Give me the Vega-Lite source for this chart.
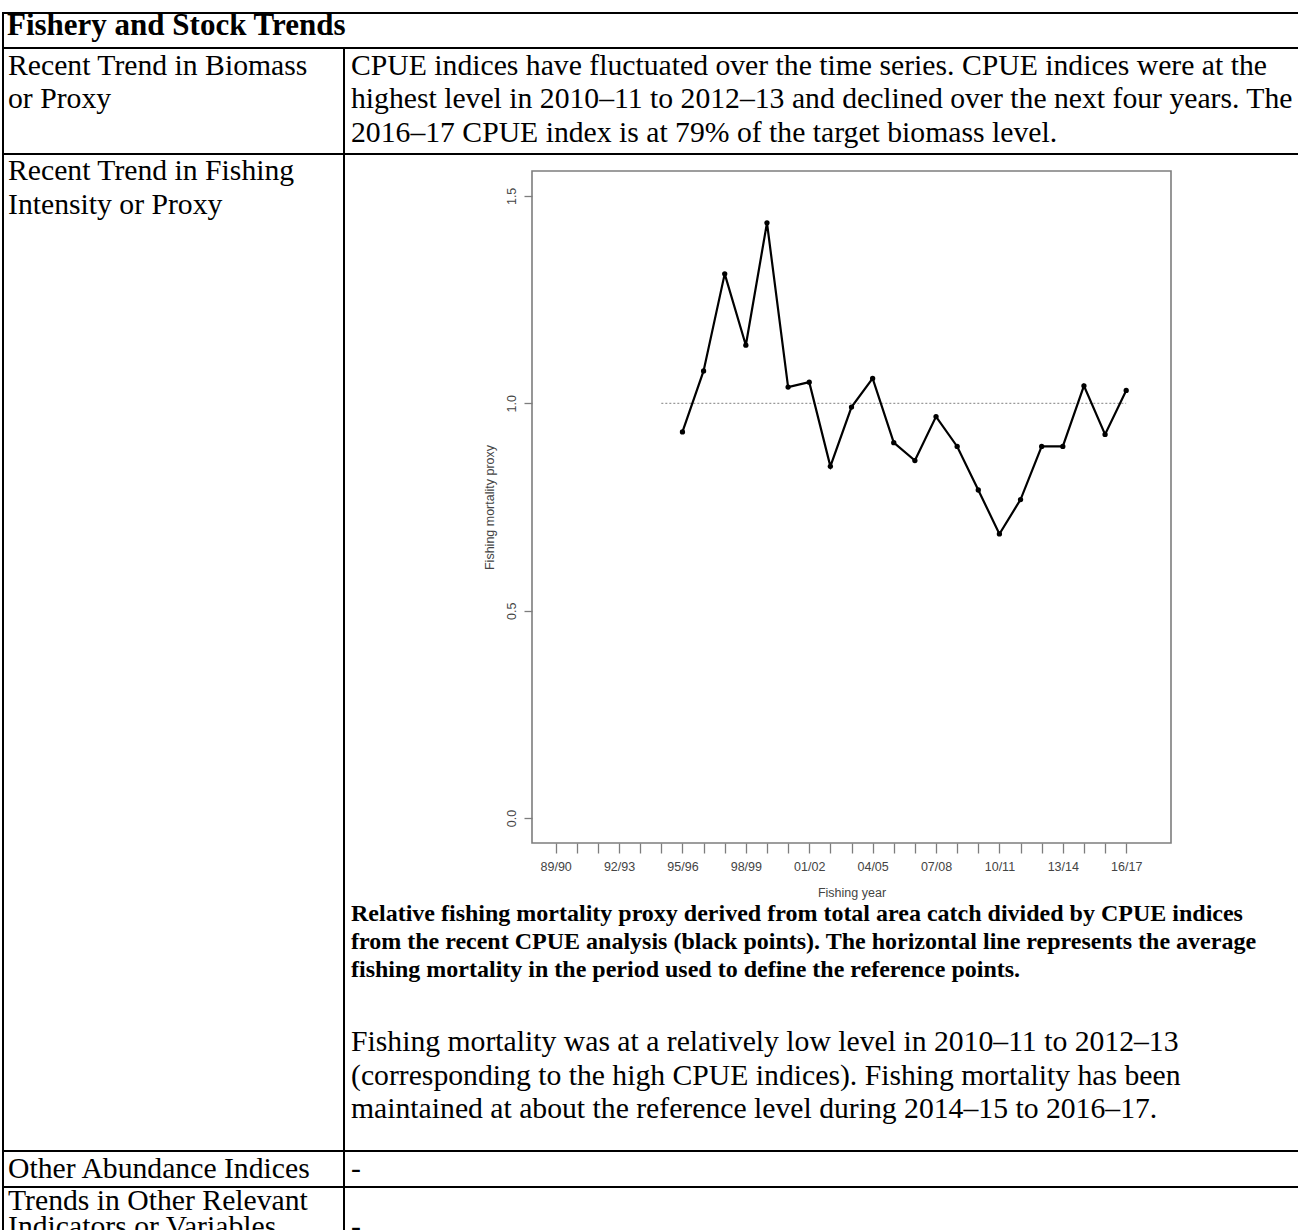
{
  "$schema": "https://vega.github.io/schema/vega-lite/v6.json",
  "padding": {"left": 2, "top": 9, "right": 0, "bottom": 0},
  "background": "white",
  "config": {"view": {"stroke": null}, "concat": {"spacing": 0}, "font": "Liberation Serif"},
  "datasets": {
    "texts": [
      {"cell": "header", "line": 0, "text": "Fishery and Stock Trends"},
      {"cell": "b_left", "line": 0, "text": "Recent Trend in Biomass"},
      {"cell": "b_left", "line": 1, "text": "or Proxy"},
      {"cell": "b_right", "line": 0, "text": "CPUE indices have fluctuated over the time series. CPUE indices were at the"},
      {"cell": "b_right", "line": 1, "text": "highest level in 2010–11 to 2012–13 and declined over the next four years. The"},
      {"cell": "b_right", "line": 2, "text": "2016–17 CPUE index is at 79% of the target biomass level."},
      {"cell": "c_left", "line": 0, "text": "Recent Trend in Fishing"},
      {"cell": "c_left", "line": 1, "text": "Intensity or Proxy"},
      {"cell": "caption", "line": 0, "text": "Relative fishing mortality proxy derived from total area catch divided by CPUE indices"},
      {"cell": "caption", "line": 1, "text": "from the recent CPUE analysis (black points). The horizontal line represents the average"},
      {"cell": "caption", "line": 2, "text": "fishing mortality in the period used to define the reference points."},
      {"cell": "para", "line": 0, "text": "Fishing mortality was at a relatively low level in 2010–11 to 2012–13"},
      {"cell": "para", "line": 1, "text": "(corresponding to the high CPUE indices). Fishing mortality has been"},
      {"cell": "para", "line": 2, "text": "maintained at about the reference level during 2014–15 to 2016–17."},
      {"cell": "d_left", "line": 0, "text": "Other Abundance Indices"},
      {"cell": "d_right", "line": 0, "text": "-"},
      {"cell": "e_left", "line": 0, "text": "Trends in Other Relevant"},
      {"cell": "e_left", "line": 1, "text": "Indicators or Variables"},
      {"cell": "e_right", "line": 1, "text": "-"}
    ],
    "fm": [
      {"year": 1995, "proxy": 0.931},
      {"year": 1996, "proxy": 1.078},
      {"year": 1997, "proxy": 1.312},
      {"year": 1998, "proxy": 1.140},
      {"year": 1999, "proxy": 1.435},
      {"year": 2000, "proxy": 1.039},
      {"year": 2001, "proxy": 1.051},
      {"year": 2002, "proxy": 0.848},
      {"year": 2003, "proxy": 0.991},
      {"year": 2004, "proxy": 1.060},
      {"year": 2005, "proxy": 0.905},
      {"year": 2006, "proxy": 0.862},
      {"year": 2007, "proxy": 0.968},
      {"year": 2008, "proxy": 0.896},
      {"year": 2009, "proxy": 0.791},
      {"year": 2010, "proxy": 0.685},
      {"year": 2011, "proxy": 0.768},
      {"year": 2012, "proxy": 0.896},
      {"year": 2013, "proxy": 0.896},
      {"year": 2014, "proxy": 1.042},
      {"year": 2015, "proxy": 0.925},
      {"year": 2016, "proxy": 1.031}
    ],
    "ref": [
      {"start": 1994, "end": 2016, "level": 1.0}
    ]
  },
  "bounds": "flush",
  "spacing": 0,
  "vconcat": [
    {
      "width": 1341, "height": 35,
      "view": {"stroke": "black", "strokeWidth": 2},
      "data": {"name": "texts"},
      "transform": [{"filter": "datum.cell === 'header'"}],
      "mark": {"type": "text", "align": "left", "baseline": "alphabetic", "font": "Liberation Serif", "fontSize": 31, "fontWeight": "bold", "color": "black", "dx": 4, "dy": 22},
      "encoding": {
        "x": {"datum": 0, "type": "quantitative", "scale": {"domain": [0, 1]}, "axis": null},
        "y": {"field": "line", "type": "quantitative", "scale": {"domain": [0, 1.0448], "reverse": true, "nice": false, "zero": false}, "axis": null},
        "text": {"field": "text"}
      }
    },
    {
      "bounds": "flush", "spacing": 0,
      "hconcat": [
        {
          "width": 341, "height": 106,
          "view": {"stroke": "black", "strokeWidth": 2},
          "data": {"name": "texts"},
          "transform": [{"filter": "datum.cell === 'b_left'"}],
          "mark": {"type": "text", "align": "left", "baseline": "alphabetic", "font": "Liberation Serif", "fontSize": 29.7, "color": "black", "dx": 5, "dy": 27},
          "encoding": {
            "x": {"datum": 0, "type": "quantitative", "scale": {"domain": [0, 1]}, "axis": null},
            "y": {"field": "line", "type": "quantitative", "scale": {"domain": [0, 3.1642], "reverse": true, "nice": false, "zero": false}, "axis": null},
            "text": {"field": "text"}
          }
        },
        {
          "width": 1000, "height": 106,
          "view": {"stroke": "black", "strokeWidth": 2},
          "data": {"name": "texts"},
          "transform": [{"filter": "datum.cell === 'b_right'"}],
          "mark": {"type": "text", "align": "left", "baseline": "alphabetic", "font": "Liberation Serif", "fontSize": 29.7, "color": "black", "dx": 7, "dy": 27},
          "encoding": {
            "x": {"datum": 0, "type": "quantitative", "scale": {"domain": [0, 1]}, "axis": null},
            "y": {"field": "line", "type": "quantitative", "scale": {"domain": [0, 3.1642], "reverse": true, "nice": false, "zero": false}, "axis": null},
            "text": {"field": "text"}
          }
        }
      ]
    },
    {"width": 10, "height": 106, "data": {"values": [{}]}, "mark": {"type": "point", "opacity": 0}},
    {
      "bounds": "flush", "spacing": 0,
      "hconcat": [
        {
          "width": 341, "height": 997,
          "view": {"stroke": "black", "strokeWidth": 2},
          "data": {"name": "texts"},
          "transform": [{"filter": "datum.cell === 'c_left'"}],
          "mark": {"type": "text", "align": "left", "baseline": "alphabetic", "font": "Liberation Serif", "fontSize": 29.7, "color": "black", "dx": 5, "dy": 26},
          "encoding": {
            "x": {"datum": 0, "type": "quantitative", "scale": {"domain": [0, 1]}, "axis": null},
            "y": {"field": "line", "type": "quantitative", "scale": {"domain": [0, 29.761], "reverse": true, "nice": false, "zero": false}, "axis": null},
            "text": {"field": "text"}
          }
        },
        {
          "bounds": "flush", "spacing": 0,
          "vconcat": [
            {"width": 10, "height": 17, "data": {"values": [{}]}, "mark": {"type": "point", "opacity": 0}},
            {
              "bounds": "flush", "spacing": 0,
              "hconcat": [
                {"width": 188, "height": 10, "data": {"values": [{}]}, "mark": {"type": "point", "opacity": 0}},
                {
                  "width": 639, "height": 672,
                  "view": {"stroke": "#7d7d7d", "strokeWidth": 1.6},
                  "data": {"name": "fm"},
                  "encoding": {
                    "x": {"field": "year", "type": "quantitative",
                      "scale": {"domain": [1987.88, 2018.12], "nice": false, "zero": false},
                      "axis": {"values": [1989,1990,1991,1992,1993,1994,1995,1996,1997,1998,1999,2000,2001,2002,2003,2004,2005,2006,2007,2008,2009,2010,2011,2012,2013,2014,2015,2016],
                        "labelExpr": "(datum.value - 1989) % 3 == 0 ? substring(toString(datum.value), 2, 4) + '/' + substring(toString(datum.value + 1), 2, 4) : ''",
                        "title": "Fishing year", "grid": false, "domain": false,
                        "tickSize": 10, "tickColor": "#7d7d7d", "tickWidth": 1.3,
                        "labelFont": "Liberation Sans", "labelFontSize": 12.5, "labelColor": "#444", "labelPadding": 7,
                        "labelFlush": false, "labelOverlap": false,
                        "titleFont": "Liberation Sans", "titleFontSize": 12.5, "titleFontWeight": "normal", "titleColor": "#444", "titlePadding": 14}},
                    "y": {"field": "proxy", "type": "quantitative",
                      "scale": {"domain": [-0.06, 1.56], "nice": false, "zero": false},
                      "axis": {"values": [0, 0.5, 1, 1.5], "format": ".1f", "labelAngle": -90, "labelAlign": "center", "labelBaseline": "bottom",
                        "title": "Fishing mortality proxy", "grid": false, "domain": false,
                        "tickSize": 8, "tickColor": "#7d7d7d", "tickWidth": 1.3,
                        "labelFont": "Liberation Sans", "labelFontSize": 12.5, "labelColor": "#444", "labelPadding": 6,
                        "titleFont": "Liberation Sans", "titleFontSize": 12.5, "titleFontWeight": "normal", "titleColor": "#444", "titlePadding": 9}}
                  },
                  "layer": [
                    {
                      "data": {"name": "ref"},
                      "mark": {"type": "rule", "color": "#999", "strokeDash": [2, 2], "strokeWidth": 1.2},
                      "encoding": {
                        "x": {"field": "start", "type": "quantitative"},
                        "x2": {"field": "end"},
                        "y": {"field": "level", "type": "quantitative"}
                      }
                    },
                    {"mark": {"type": "line", "color": "black", "strokeWidth": 2.2}},
                    {"mark": {"type": "point", "filled": true, "color": "black", "opacity": 1, "size": 28}}
                  ]
                }
              ]
            },
            {"width": 10, "height": 729, "data": {"values": [{}]}, "mark": {"type": "point", "opacity": 0}},
            {
              "width": 950, "height": 84,
              "data": {"name": "texts"},
              "transform": [{"filter": "datum.cell === 'caption'"}],
              "mark": {"type": "text", "align": "left", "baseline": "alphabetic", "font": "Liberation Serif", "fontSize": 24, "fontWeight": "bold", "color": "black", "dx": 7, "dy": 21},
              "encoding": {
                "x": {"datum": 0, "type": "quantitative", "scale": {"domain": [0, 1]}, "axis": null},
                "y": {"field": "line", "type": "quantitative", "scale": {"domain": [0, 3], "reverse": true, "nice": false, "zero": false}, "axis": null},
                "text": {"field": "text"}
              }
            },
            {"width": 10, "height": 41, "data": {"values": [{}]}, "mark": {"type": "point", "opacity": 0}},
            {
              "width": 950, "height": 100.5,
              "data": {"name": "texts"},
              "transform": [{"filter": "datum.cell === 'para'"}],
              "mark": {"type": "text", "align": "left", "baseline": "alphabetic", "font": "Liberation Serif", "fontSize": 29.7, "color": "black", "dx": 7, "dy": 26},
              "encoding": {
                "x": {"datum": 0, "type": "quantitative", "scale": {"domain": [0, 1]}, "axis": null},
                "y": {"field": "line", "type": "quantitative", "scale": {"domain": [0, 3], "reverse": true, "nice": false, "zero": false}, "axis": null},
                "text": {"field": "text"}
              }
            }
          ]
        }
      ]
    },
    {"width": 10, "height": 997, "data": {"values": [{}]}, "mark": {"type": "point", "opacity": 0}},
    {
      "bounds": "flush", "spacing": 0,
      "hconcat": [
        {
          "width": 341, "height": 36,
          "view": {"stroke": "black", "strokeWidth": 2},
          "data": {"name": "texts"},
          "transform": [{"filter": "datum.cell === 'd_left'"}],
          "mark": {"type": "text", "align": "left", "baseline": "alphabetic", "font": "Liberation Serif", "fontSize": 29.7, "color": "black", "dx": 5, "dy": 27},
          "encoding": {
            "x": {"datum": 0, "type": "quantitative", "scale": {"domain": [0, 1]}, "axis": null},
            "y": {"field": "line", "type": "quantitative", "scale": {"domain": [0, 1.0746], "reverse": true, "nice": false, "zero": false}, "axis": null},
            "text": {"field": "text"}
          }
        },
        {
          "width": 1000, "height": 36,
          "view": {"stroke": "black", "strokeWidth": 2},
          "data": {"name": "texts"},
          "transform": [{"filter": "datum.cell === 'd_right'"}],
          "mark": {"type": "text", "align": "left", "baseline": "alphabetic", "font": "Liberation Serif", "fontSize": 29.7, "color": "black", "dx": 7, "dy": 27},
          "encoding": {
            "x": {"datum": 0, "type": "quantitative", "scale": {"domain": [0, 1]}, "axis": null},
            "y": {"field": "line", "type": "quantitative", "scale": {"domain": [0, 1.0746], "reverse": true, "nice": false, "zero": false}, "axis": null},
            "text": {"field": "text"}
          }
        }
      ]
    },
    {"width": 10, "height": 36, "data": {"values": [{}]}, "mark": {"type": "point", "opacity": 0}},
    {
      "bounds": "flush", "spacing": 0,
      "hconcat": [
        {
          "width": 341, "height": 100,
          "view": {"stroke": "black", "strokeWidth": 2},
          "data": {"name": "texts"},
          "transform": [{"filter": "datum.cell === 'e_left'"}],
          "mark": {"type": "text", "align": "left", "baseline": "alphabetic", "font": "Liberation Serif", "fontSize": 29.7, "color": "black", "dx": 5, "dy": 23},
          "encoding": {
            "x": {"datum": 0, "type": "quantitative", "scale": {"domain": [0, 1]}, "axis": null},
            "y": {"field": "line", "type": "quantitative", "scale": {"domain": [0, 3.846], "reverse": true, "nice": false, "zero": false}, "axis": null},
            "text": {"field": "text"}
          }
        },
        {
          "width": 1000, "height": 100,
          "view": {"stroke": "black", "strokeWidth": 2},
          "data": {"name": "texts"},
          "transform": [{"filter": "datum.cell === 'e_right'"}],
          "mark": {"type": "text", "align": "left", "baseline": "alphabetic", "font": "Liberation Serif", "fontSize": 29.7, "color": "black", "dx": 7, "dy": 23},
          "encoding": {
            "x": {"datum": 0, "type": "quantitative", "scale": {"domain": [0, 1]}, "axis": null},
            "y": {"field": "line", "type": "quantitative", "scale": {"domain": [0, 3.846], "reverse": true, "nice": false, "zero": false}, "axis": null},
            "text": {"field": "text"}
          }
        }
      ]
    }
  ]
}
